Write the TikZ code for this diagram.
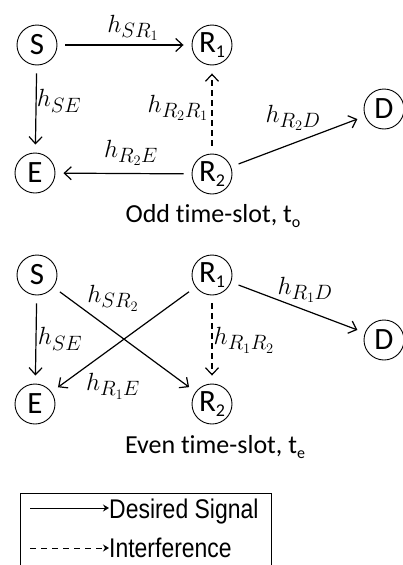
\documentclass[tikz,border=0pt]{standalone}
\usepackage{fontspec}
\setmainfont[Ligatures=NoCommon]{Carlito}
\newfontfamily\legendfont[FakeStretch=0.85]{Liberation Sans}
\usetikzlibrary{arrows.meta}
\begin{document}
\begin{tikzpicture}[x=1pt,y=-1pt,
  nd/.style={circle,draw,line width=0.9pt,minimum size=40pt,inner sep=0pt,
    font=\fontsize{31}{31}\selectfont},
  sig/.style={line width=1.2pt,-{Straight Barb[length=7pt,width=13pt,line width=1.2pt]},
    shorten >=8pt,shorten <=8pt},
  intf/.style={sig,dash pattern=on 6pt off 4pt},
  lab/.style={font=\fontsize{28}{28}\selectfont,inner sep=0pt},
  captext/.style={font=\fontsize{26}{26}\selectfont,inner sep=0pt},
  leg/.style={font=\legendfont\fontsize{27}{27}\selectfont,inner sep=0pt,
    text depth=0pt,anchor=base west}]
\useasboundingbox (0,0) rectangle (403,565);
\newcommand{\sbs}[1]{\raisebox{-0.18em}{\fontsize{18}{18}\selectfont #1}}
\newcommand{\csbs}[1]{\raisebox{-0.18em}{\fontsize{16}{16}\selectfont #1}}
% ---------- odd time slot ----------
\node[nd] (S1) at (37,45) {S};
\node[nd] (R11) at (212,45) {R\sbs{1}};
\node[nd] (D1) at (384,109) {D};
\node[nd] (E1) at (35,173) {E};
\node[nd] (R21) at (212,174) {R\sbs{2}};
\draw[sig] (S1) -- (R11);
\draw[sig] (S1) -- (E1);
\draw[intf] (R21) -- (R11);
\draw[sig] (R21) -- (E1);
\draw[sig] (R21) -- (D1);
\node[lab] (l1) at (133,28) {$h_{SR_1}$};
\node[lab] (l2) at (59,101) {$h_{SE}$};
\node[lab] (l3) at (178,108) {$h_{R_2R_1}$};
\node[lab] (l4) at (293,118) {$h_{R_2D}$};
\node[lab] (l5) at (131,153) {$h_{R_2E}$};
\node[captext] (c1) at (213,216) {Odd time-slot, t\csbs{o}};
% ---------- even time slot ----------
\node[nd] (S2) at (37,275) {S};
\node[nd] (R12) at (212,275) {R\sbs{1}};
\node[nd] (D2) at (384,340) {D};
\node[nd] (E2) at (35,404) {E};
\node[nd] (R22) at (212,404) {R\sbs{2}};
\draw[sig] (S2) -- (E2);
\draw[sig] (S2) -- (R22);
\draw[sig] (R12) -- (E2);
\draw[intf] (R12) -- (R22);
\draw[sig] (R12) -- (D2);
\node[lab] (m1) at (113,298) {$h_{SR_2}$};
\node[lab] (m2) at (60,339) {$h_{SE}$};
\node[lab] (m3) at (244,340) {$h_{R_1R_2}$};
\node[lab] (m4) at (305,290) {$h_{R_1D}$};
\node[lab] (m5) at (113,386) {$h_{R_1E}$};
\node[captext] (c2) at (215,447) {Even time-slot, t\csbs{e}};
% ---------- legend ----------
\draw[line width=1pt] (20,566) -- (20,493) -- (271,493) -- (271,566);
\coordinate (a1) at (30,508);
\coordinate (a2) at (30,548);
\node[leg] (t1) at (109,518) {Desired Signal};
\node[leg] (t2) at (109,557) {Interference};
\draw[line width=1pt,-{Stealth[length=6pt,width=7pt,inset=2pt]}] (a1) -- (t1.west |- a1);
\draw[line width=1pt,dash pattern=on 6pt off 5pt,-{Stealth[length=6pt,width=7pt,inset=2pt]}] (a2) -- (t2.west |- a2);
\end{tikzpicture}
\end{document}
